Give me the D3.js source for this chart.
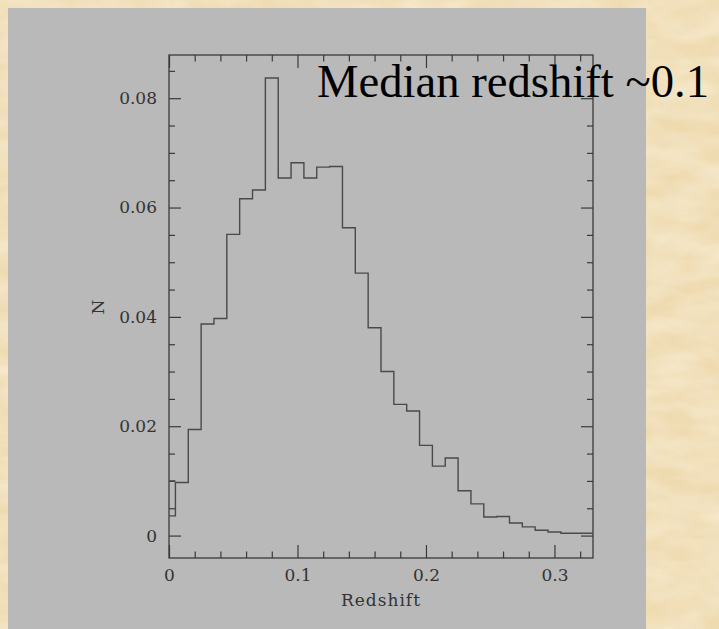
<!DOCTYPE html>
<html>
<head>
<meta charset="utf-8">
<script src="https://cdn.jsdelivr.net/npm/d3@7/dist/d3.min.js"></script>
<style>
  html, body { margin: 0; padding: 0; background: #EDD6A6; }
  svg { display: block; }
</style>
</head>
<body>
<script>
// ---- data ----
const binLefts = [0, 0.005, 0.015, 0.025, 0.035, 0.045, 0.055, 0.065, 0.075, 0.085,
  0.095, 0.105, 0.115, 0.125, 0.135, 0.145, 0.155, 0.165, 0.175, 0.185,
  0.195, 0.205, 0.215, 0.225, 0.235, 0.245, 0.255, 0.265, 0.275, 0.285,
  0.295, 0.305, 0.315, 0.325];
const binValues = [0.0036, 0.0097, 0.0194, 0.0387, 0.0397, 0.0551, 0.0616, 0.0632, 0.0837, 0.0654,
  0.0682, 0.0654, 0.0674, 0.0675, 0.0563, 0.0480, 0.0380, 0.0300, 0.0240, 0.0228,
  0.0165, 0.0127, 0.0142, 0.0082, 0.0058, 0.0034, 0.0035, 0.0023, 0.0016, 0.00097,
  0.00066, 0.00042, 0.00042, 0.00042];
const firstBinCap = 0.0100;          // extra cap line drawn over the first half-bin
const xDomain = [0, 0.33];
const yDomain = [-0.0041, 0.0879];
const xMajorTicks = [0, 0.1, 0.2, 0.3];
const xTickLabels = ["0", "0.1", "0.2", "0.3"];
const xMinorTicks = [0.02, 0.04, 0.06, 0.08, 0.12, 0.14, 0.16, 0.18, 0.22, 0.24, 0.26, 0.28, 0.32];
const yMajorTicks = [0, 0.02, 0.04, 0.06, 0.08];
const yTickLabels = ["0", "0.02", "0.04", "0.06", "0.08"];
const yMinorTicks = [0.005, 0.01, 0.015, 0.025, 0.03, 0.035, 0.045, 0.05, 0.055, 0.065, 0.07, 0.075, 0.085];
const xLabel = "Redshift";
const yLabel = "N";
const titleText = "Median redshift ~0.1";

// ---- layout ----
const W = 719, H = 629;
const plot = { left: 169, right: 593, top: 55, bottom: 558 };
const axisColor = "#3a3a3a";
const lineColor = "#4a4a4a";
const textColor = "#333333";
const tickFont = "'DejaVu Serif', serif";

const svg = d3.select("body").append("svg").attr("width", W).attr("height", H);

// pick an installed Times-like serif font for the title
function pickFont(cands) {
  const probe = svg.append("text").attr("font-size", 40).text(titleText);
  probe.attr("font-family", "monospace");
  const base = probe.node().getComputedTextLength();
  let chosen = null;
  for (const c of cands) {
    probe.attr("font-family", `"${c}", monospace`);
    const w = probe.node().getComputedTextLength();
    if (Math.abs(w - base) > 0.5) { chosen = c; break; }
  }
  probe.remove();
  return chosen || "serif";
}
const titleFont = pickFont(["Liberation Serif", "Tinos", "Times New Roman", "Times", "Nimbus Roman", "Nimbus Roman No9 L", "FreeSerif", "Noto Serif", "DejaVu Serif"]);

// parchment texture
const defs = svg.append("defs");
const f = defs.append("filter").attr("id", "paper").attr("x", 0).attr("y", 0).attr("width", 1).attr("height", 1);
f.append("feTurbulence").attr("type", "fractalNoise").attr("baseFrequency", "0.02 0.05")
  .attr("numOctaves", 4).attr("seed", 7).attr("result", "noise");
f.append("feColorMatrix").attr("in", "noise").attr("type", "matrix")
  .attr("values", "0 0 0 0 0.98  0 0 0 0 0.93  0 0 0 0 0.80  0.9 0 0 0 -0.25");
const f2 = defs.append("filter").attr("id", "paper2").attr("x", 0).attr("y", 0).attr("width", 1).attr("height", 1);
f2.append("feTurbulence").attr("type", "fractalNoise").attr("baseFrequency", "0.05 0.09")
  .attr("numOctaves", 3).attr("seed", 21).attr("result", "noise");
f2.append("feColorMatrix").attr("in", "noise").attr("type", "matrix")
  .attr("values", "0 0 0 0 0.86  0 0 0 0 0.75  0 0 0 0 0.55  0 0.9 0 0 -0.3");

svg.append("rect").attr("width", W).attr("height", H).attr("fill", "#EFDAAE");
svg.append("rect").attr("width", W).attr("height", H).attr("filter", "url(#paper)");
svg.append("rect").attr("width", W).attr("height", H).attr("filter", "url(#paper2)");

// gray panel
svg.append("rect").attr("x", 8).attr("y", 8).attr("width", 638).attr("height", H - 8).attr("fill", "#B9B9B9");

const x = d3.scaleLinear().domain(xDomain).range([plot.left, plot.right]);
const y = d3.scaleLinear().domain(yDomain).range([plot.bottom, plot.top]);

function styleAxis(g) {
  g.select(".domain").remove();
  g.selectAll(".tick line").attr("stroke", axisColor).attr("stroke-width", 1.2);
  g.selectAll(".tick text").attr("fill", textColor).style("font-family", tickFont)
    .style("font-size", "17px");
}

// bottom axis
svg.append("g").attr("transform", `translate(0,${plot.bottom})`)
  .call(d3.axisBottom(x).tickValues(xMajorTicks).tickSize(-13).tickPadding(11)
    .tickFormat((d, i) => xTickLabels[i]))
  .call(styleAxis);
svg.append("g").attr("transform", `translate(0,${plot.bottom})`)
  .call(d3.axisBottom(x).tickValues(xMinorTicks).tickSize(-6.5).tickFormat(""))
  .call(styleAxis);
// top axis (mirrored)
svg.append("g").attr("transform", `translate(0,${plot.top})`)
  .call(d3.axisTop(x).tickValues(xMajorTicks).tickSize(-13).tickFormat(""))
  .call(styleAxis);
svg.append("g").attr("transform", `translate(0,${plot.top})`)
  .call(d3.axisTop(x).tickValues(xMinorTicks).tickSize(-6.5).tickFormat(""))
  .call(styleAxis);
// left axis
svg.append("g").attr("transform", `translate(${plot.left},0)`)
  .call(d3.axisLeft(y).tickValues(yMajorTicks).tickSize(-12).tickPadding(12)
    .tickFormat((d, i) => yTickLabels[i]))
  .call(styleAxis);
svg.append("g").attr("transform", `translate(${plot.left},0)`)
  .call(d3.axisLeft(y).tickValues(yMinorTicks).tickSize(-6).tickFormat(""))
  .call(styleAxis);
// right axis (mirrored)
svg.append("g").attr("transform", `translate(${plot.right},0)`)
  .call(d3.axisRight(y).tickValues(yMajorTicks).tickSize(-12).tickFormat(""))
  .call(styleAxis);
svg.append("g").attr("transform", `translate(${plot.right},0)`)
  .call(d3.axisRight(y).tickValues(yMinorTicks).tickSize(-6).tickFormat(""))
  .call(styleAxis);

// frame
svg.append("rect").attr("x", plot.left).attr("y", plot.top)
  .attr("width", plot.right - plot.left).attr("height", plot.bottom - plot.top)
  .attr("fill", "none").attr("stroke", axisColor).attr("stroke-width", 1.3);

// histogram step line
const pts = binLefts.map((b, i) => [b, binValues[i]]);
pts.push([xDomain[1], binValues[binValues.length - 1]]);
const step = d3.line().x(d => x(d[0])).y(d => y(d[1])).curve(d3.curveStepAfter);
svg.append("path").datum(pts).attr("d", step)
  .attr("fill", "none").attr("stroke", lineColor).attr("stroke-width", 1.4);
svg.append("path").datum([[binLefts[0], firstBinCap], [binLefts[1], firstBinCap]]).attr("d", step)
  .attr("fill", "none").attr("stroke", lineColor).attr("stroke-width", 1.4);

// axis labels
svg.append("text").attr("x", (plot.left + plot.right) / 2).attr("y", 606)
  .attr("text-anchor", "middle").attr("fill", textColor)
  .style("font-family", tickFont).style("font-size", "17px").style("letter-spacing", "1px")
  .text(xLabel);
svg.append("text").attr("transform", "translate(104,307) rotate(-90)")
  .attr("text-anchor", "middle").attr("fill", textColor)
  .style("font-family", tickFont).style("font-size", "17px")
  .text(yLabel);

// title
svg.append("text").attr("x", 317).attr("y", 97).attr("fill", "#000")
  .attr("font-family", `"${titleFont}", serif`)
  .attr("font-size", 47).attr("textLength", 392).attr("lengthAdjust", "spacingAndGlyphs")
  .text(titleText);
</script>
</body>
</html>
